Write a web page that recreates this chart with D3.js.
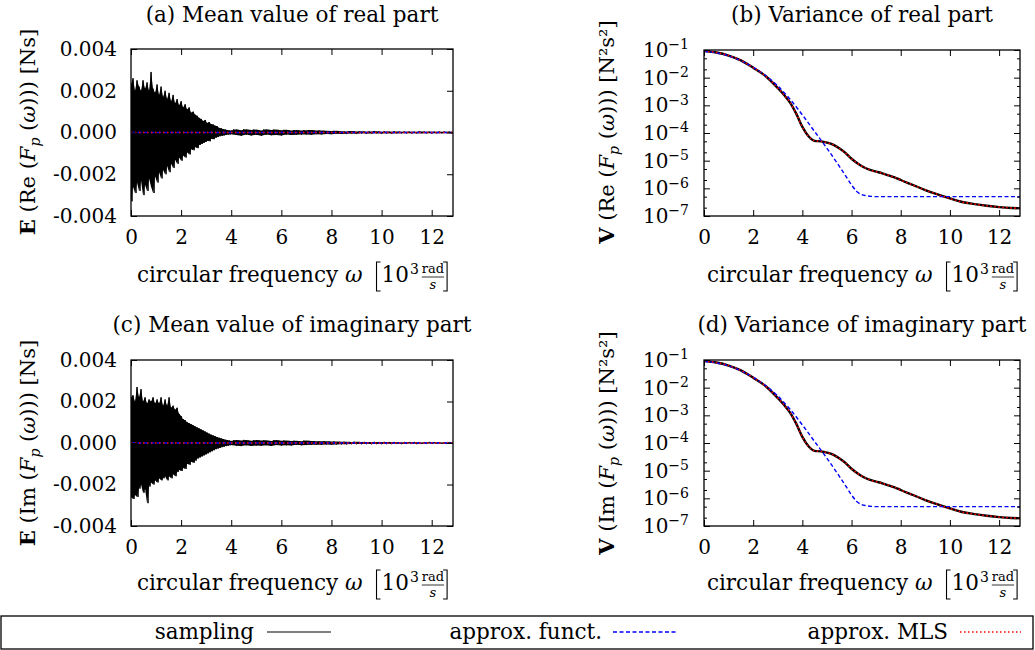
<!DOCTYPE html>
<html>
<head>
<meta charset="utf-8">
<script src="https://cdn.jsdelivr.net/npm/d3@7"></script>
<style>
body { margin: 0; background: #fff; }
svg { display: block; }
text { font-family: "DejaVu Serif", serif; fill: #000; }
</style>
</head>
<body>
<div id="chart"></div>
<script>
// Mean values, in 10^-3 Ns. Upper / lower extremes of the sampled signal,
// head part every 0.08 (10^3 rad/s) from 0 to 4, tail every 0.2 from 4.2 to 12.8
var headStep = 0.08, headEnd = 4.0, tailStep = 0.2;

var meanReHi = [2.3,2.6,2.0,2.5,2.2,2.0,2.5,2.1,2.4,2.0, 2.9,2.1,1.9,2.3,1.8,2.2,1.7,2.0,1.6,1.9,
	1.5,1.8,1.4,1.6,1.3,1.5,1.2,1.35,1.1,1.2, 0.95,1.0,0.85,0.8,0.7,0.65,0.55,0.6,0.45,0.5,
	0.4,0.38,0.32,0.3,0.22,0.2,0.16,0.14,0.12,0.1, 0.09];
var meanReLo = [-3.3,-2.6,-2.9,-2.4,-2.8,-2.3,-3.0,-2.5,-2.8,-2.2, -2.6,-2.9,-2.1,-2.4,-1.9,-2.2,-1.8,-2.0,-1.6,-1.9,
	-1.5,-1.7,-1.3,-1.5,-1.2,-1.35,-1.1,-1.2,-0.95,-1.05, -0.8,-0.85,-0.7,-0.75,-0.6,-0.55,-0.5,-0.45,-0.4,-0.42,
	-0.3,-0.32,-0.25,-0.22,-0.18,-0.16,-0.14,-0.12,-0.1,-0.09, -0.08];
var meanReTailHi = [0.15,0.11,0.16,0.12,0.14,0.10,0.15,0.12,0.14,0.11, 0.13,0.10,0.12,0.09,0.11,0.12,0.09,0.10,0.08,0.07,
	0.08,0.06,0.05,0.07,0.05,0.06,0.04,0.05,0.06,0.04, 0.05,0.04,0.05,0.03,0.04,0.04,0.03,0.05,0.03,0.04,
	0.03,0.04,0.03,0.03];
var meanReTailLo = [-0.12,-0.15,-0.10,-0.14,-0.11,-0.15,-0.10,-0.13,-0.12,-0.14, -0.10,-0.12,-0.11,-0.10,-0.09,-0.11,-0.08,-0.09,-0.07,-0.08,
	-0.06,-0.07,-0.06,-0.05,-0.06,-0.04,-0.05,-0.05,-0.04,-0.05, -0.04,-0.05,-0.04,-0.03,-0.03,-0.04,-0.04,-0.03,-0.03,-0.04,
	-0.03,-0.03,-0.02,-0.03];

var meanImHi = [2.2,2.3,2.0,2.7,2.2,2.6,2.0,2.2,1.9,2.1, 2.0,2.2,1.9,2.1,1.9,2.2,1.8,2.1,1.8,2.2,
	1.7,1.8,1.6,1.7,1.4,1.3,1.15,1.1,1.0,0.95, 0.9,0.85,0.8,0.75,0.7,0.65,0.6,0.55,0.5,0.45,
	0.4,0.36,0.32,0.28,0.25,0.22,0.19,0.16,0.14,0.12, 0.1];
var meanImLo = [-2.6,-2.7,-2.5,-2.6,-2.2,-2.0,-2.4,-2.2,-2.9,-2.1, -1.9,-2.0,-1.8,-1.9,-1.7,-1.8,-1.7,-1.6,-1.8,-1.6,
	-1.7,-1.5,-1.6,-1.4,-1.3,-1.35,-1.2,-1.25,-1.0,-1.05, -0.9,-0.95,-0.85,-0.75,-0.7,-0.65,-0.6,-0.55,-0.5,-0.45,
	-0.4,-0.35,-0.3,-0.27,-0.24,-0.2,-0.18,-0.15,-0.13,-0.11, -0.1];
var meanImTailHi = [0.14,0.12,0.15,0.11,0.14,0.12,0.13,0.10,0.14,0.11, 0.12,0.10,0.11,0.09,0.12,0.10,0.09,0.08,0.09,0.07,
	0.07,0.06,0.06,0.05,0.06,0.05,0.05,0.04,0.05,0.04, 0.05,0.04,0.04,0.03,0.04,0.03,0.04,0.03,0.03,0.04,
	0.03,0.03,0.02,0.03];
var meanImTailLo = [-0.13,-0.15,-0.11,-0.14,-0.12,-0.13,-0.11,-0.14,-0.10,-0.12, -0.11,-0.12,-0.09,-0.11,-0.10,-0.09,-0.08,-0.09,-0.07,-0.08,
	-0.07,-0.06,-0.06,-0.05,-0.05,-0.05,-0.04,-0.05,-0.04,-0.04, -0.04,-0.04,-0.03,-0.04,-0.03,-0.03,-0.04,-0.03,-0.03,-0.03,
	-0.02,-0.03,-0.03,-0.02];

// approximations of the mean (both are zero)
var meanApproxOmega = [0, 12.85];
var meanApprox = [0, 0];
var meanMls = [0, 0];

// Variances [N^2 s^2]
var varSampOmega = [0,0.5,1,1.5,2,2.5,3,3.25,3.5,3.75,4,4.25,4.5,4.75,5,5.25,5.5,5.75,6,6.25,6.5,6.75,7,7.25,7.5,7.75,8,8.5,9,9.5,10,10.5,11,11.5,12,12.5,12.85];
var varReSampling = [9.1e-2,8.1e-2,6.3e-2,4.2e-2,2.3e-2,1.15e-2,4.2e-3,2.4e-3,1.26e-3,5.0e-4,1.66e-4,7.6e-5,5.2e-5,5.0e-5,4.5e-5,
	3.8e-5,2.8e-5,1.9e-5,1.17e-5,7.9e-6,5.8e-6,4.6e-6,4.0e-6,3.5e-6,2.95e-6,2.5e-6,2.0e-6,1.32e-6,8.7e-7,6.0e-7,4.3e-7,
	3.2e-7,2.7e-7,2.35e-7,2.1e-7,1.95e-7,1.9e-7];
var varReMls = [9.1e-2,8.1e-2,6.3e-2,4.2e-2,2.3e-2,1.15e-2,4.2e-3,2.4e-3,1.26e-3,5.0e-4,1.66e-4,7.6e-5,5.2e-5,5.0e-5,4.5e-5,
	3.8e-5,2.8e-5,1.9e-5,1.17e-5,7.9e-6,5.8e-6,4.6e-6,4.0e-6,3.5e-6,2.95e-6,2.5e-6,2.0e-6,1.32e-6,8.7e-7,6.0e-7,4.3e-7,
	3.2e-7,2.7e-7,2.35e-7,2.1e-7,1.95e-7,1.9e-7];
var varApproxOmega = [0,0.5,1,1.5,2,2.5,3,3.5,4,4.5,5,5.5,5.8,6,6.2,6.4,6.6,6.8,7,8,9,10,11,12,12.85];
var varReApprox = [8.9e-2,7.9e-2,6.2e-2,4.1e-2,2.4e-2,1.2e-2,5.0e-3,1.66e-3,4.5e-4,1.12e-4,2.8e-5,6.3e-6,2.5e-6,1.32e-6,
	7.9e-7,6.0e-7,5.4e-7,5.1e-7,5.0e-7,5.0e-7,5.0e-7,5.0e-7,5.0e-7,5.0e-7,5.0e-7];

var varImSampling = [9.1e-2,8.1e-2,6.3e-2,4.2e-2,2.3e-2,1.15e-2,4.2e-3,2.4e-3,1.26e-3,5.0e-4,1.66e-4,7.6e-5,5.2e-5,5.0e-5,4.5e-5,
	3.8e-5,2.8e-5,1.9e-5,1.17e-5,7.9e-6,5.8e-6,4.6e-6,4.0e-6,3.5e-6,2.95e-6,2.5e-6,2.0e-6,1.32e-6,8.7e-7,6.0e-7,4.3e-7,
	3.2e-7,2.7e-7,2.35e-7,2.1e-7,1.95e-7,1.9e-7];
var varImMls = varImSampling.slice();
var varImApprox = [8.9e-2,7.9e-2,6.2e-2,4.1e-2,2.4e-2,1.2e-2,5.0e-3,1.66e-3,4.5e-4,1.12e-4,2.8e-5,6.3e-6,2.5e-6,1.32e-6,
	7.9e-7,6.0e-7,5.4e-7,5.1e-7,5.0e-7,5.0e-7,5.0e-7,5.0e-7,5.0e-7,5.0e-7,5.0e-7];

// ticks
var xTicks = [0, 2, 4, 6, 8, 10, 12];
var meanTicks = [-4, -2, 0, 2, 4];
var varTicks = [1e-1, 1e-2, 1e-3, 1e-4, 1e-5, 1e-6, 1e-7];
var varMinorTicks = [5e-2, 2e-2, 5e-3, 2e-3, 5e-4, 2e-4, 5e-5, 2e-5, 5e-6, 2e-6, 5e-7, 2e-7];

var legendLabels = ["sampling", "approx. funct.", "approx. MLS"];

// ---------------------------------------------------------------
var width = 1035, height = 650;
var svg = d3.select("#chart").append("svg")
	.attr("width", width)
	.attr("height", height);

var blue = "#0000ff", red = "#ff0000";

function frameAxes(p, x, y, log) {
	var g = svg.append("g");
	g.append("g").attr("transform", "translate(0," + p.bottom + ")")
		.call(d3.axisBottom(x).tickValues(xTicks).tickSize(-6).tickPadding(14));
	g.append("g").attr("transform", "translate(0," + p.top + ")")
		.call(d3.axisTop(x).tickValues(xTicks).tickSize(-6).tickFormat(""));
	var left = g.append("g").attr("transform", "translate(" + p.left + ",0)")
		.call(d3.axisLeft(y).tickValues(log ? varTicks : meanTicks).tickSize(-6).tickPadding(log ? 15 : 14)
			.tickFormat(log ? function() { return ""; } : function(d) { return (d / 1000).toFixed(3); }));
	g.append("g").attr("transform", "translate(" + p.right + ",0)")
		.call(d3.axisRight(y).tickValues(log ? varTicks : meanTicks).tickSize(-6).tickFormat(""));
	if (log) {
		g.append("g").attr("transform", "translate(" + p.left + ",0)")
			.call(d3.axisLeft(y).tickValues(varMinorTicks).tickSize(-3).tickFormat(""));
		g.append("g").attr("transform", "translate(" + p.right + ",0)")
			.call(d3.axisRight(y).tickValues(varMinorTicks).tickSize(-3).tickFormat(""));
		left.selectAll(".tick text").each(function(d) {
			var t = d3.select(this);
			t.text("10");
			t.append("tspan").attr("dy", "-0.55em").attr("font-size", 14)
				.text("\u2212" + Math.round(-Math.log10(d)));
		});
	}
	g.selectAll(".domain").remove();
	g.selectAll("g").attr("font-family", null).attr("font-size", 20);
	g.selectAll(".tick line").attr("stroke", "#000").attr("stroke-width", 1);
	g.append("rect")
		.attr("x", p.left).attr("y", p.top)
		.attr("width", p.right - p.left).attr("height", p.bottom - p.top)
		.attr("fill", "none").attr("stroke", "#000").attr("stroke-width", 1.3);
}

function title(p, txt, base) {
	svg.append("text")
		.attr("x", (p.left + p.right) / 2).attr("y", base)
		.attr("text-anchor", "middle").attr("font-size", 21.5)
		.text(txt);
}

function yLabel(cx, cy, op, part, unit) {
	var t = svg.append("text")
		.attr("transform", "translate(" + cx + "," + cy + ") rotate(-90)")
		.attr("text-anchor", "middle").attr("font-size", 21);
	t.append("tspan").attr("font-weight", "bold").text(op);
	t.append("tspan").text(" (" + part + " (");
	t.append("tspan").attr("font-style", "italic").text("F");
	t.append("tspan").attr("font-style", "italic").attr("font-size", 14).attr("dy", 5).text("p");
	t.append("tspan").attr("dy", -5).text(" (");
	t.append("tspan").attr("font-style", "italic").text("\u03c9");
	t.append("tspan").text("))) " + unit);
}

function bracket(g, x, y0, y1, dir) {
	g.append("path")
		.attr("d", "M" + (x + 4 * dir) + "," + y0 + "H" + x + "V" + y1 + "H" + (x + 4 * dir))
		.attr("fill", "none").attr("stroke", "#000").attr("stroke-width", 1.1);
}

function xLabel(cx, base) {
	var g = svg.append("g");
	var t = g.append("text").attr("y", base).attr("font-size", 21.5);
	t.append("tspan").text("circular frequency ");
	t.append("tspan").attr("font-style", "italic").text("\u03c9");
	var x0 = t.node().getComputedTextLength() + 14;
	bracket(g, x0, base - 20, base + 9, 1);
	var t10 = g.append("text").attr("x", x0 + 5).attr("y", base).attr("font-size", 21.5).text("10");
	var x1 = x0 + 5 + t10.node().getComputedTextLength() + 1;
	var t3 = g.append("text").attr("x", x1).attr("y", base - 8).attr("font-size", 14).text("3");
	var x2 = x1 + t3.node().getComputedTextLength() + 3;
	var tr = g.append("text").attr("x", x2).attr("y", base - 9).attr("font-size", 13).text("rad");
	var wf = tr.node().getComputedTextLength();
	g.append("line").attr("x1", x2).attr("x2", x2 + wf)
		.attr("y1", base - 5).attr("y2", base - 5)
		.attr("stroke", "#000").attr("stroke-width", 0.8);
	g.append("text").attr("x", x2 + wf / 2).attr("y", base + 7)
		.attr("text-anchor", "middle").attr("font-size", 13).attr("font-style", "italic").text("s");
	var x3 = x2 + wf + 3;
	bracket(g, x3, base - 20, base + 9, -1);
	g.attr("transform", "translate(" + (cx - x3 / 2) + ",0)");
}

function clip(p, id) {
	svg.append("clipPath").attr("id", id).append("rect")
		.attr("x", p.left).attr("y", p.top)
		.attr("width", p.right - p.left).attr("height", p.bottom - p.top);
	return "url(#" + id + ")";
}

function drawMean(p, id, hi, lo, tailHi, tailLo, approx, mls) {
	var x = d3.scaleLinear().domain([0, 12.85]).range([p.left, p.right]);
	var y = d3.scaleLinear().domain([-4, 4]).range([p.bottom, p.top]);
	var cp = clip(p, id);
	var line = d3.line().x(function(d) { return x(d[0]); }).y(function(d) { return y(d[1]); });

	// band of extremes, filled
	var band = hi.map(function(v, i) { return {w: i * headStep, hi: v, lo: lo[i]}; })
		.concat(tailHi.map(function(v, j) { return {w: headEnd + (j + 1) * tailStep, hi: v, lo: tailLo[j]}; }));
	var area = d3.area()
		.x(function(d) { return x(d.w); })
		.y0(function(d) { return y(d.lo); })
		.y1(function(d) { return y(d.hi); });
	svg.append("path").datum(band).attr("clip-path", cp)
		.attr("d", area).attr("fill", "#000");

	// zigzag between upper and lower extremes
	var pts = [];
	hi.forEach(function(v, i) {
		pts.push([i * headStep, v]);
		pts.push([i * headStep + headStep / 2, lo[i]]);
	});
	tailHi.forEach(function(v, j) {
		var w = headEnd + (j + 1) * tailStep;
		pts.push([w - tailStep / 2, v]);
		pts.push([w, tailLo[j]]);
	});
	svg.append("path").datum(pts).attr("clip-path", cp)
		.attr("d", line).attr("fill", "none").attr("stroke", "#000").attr("stroke-width", 1);

	svg.append("path").datum(meanApproxOmega.map(function(w, i) { return [w, approx[i]]; }))
		.attr("clip-path", cp).attr("d", line).attr("fill", "none")
		.attr("stroke", blue).attr("stroke-width", 1.4).attr("stroke-dasharray", "4,2.5");
	svg.append("path").datum(meanApproxOmega.map(function(w, i) { return [w, mls[i]]; }))
		.attr("clip-path", cp).attr("d", line).attr("fill", "none")
		.attr("stroke", red).attr("stroke-width", 1.6).attr("stroke-dasharray", "1.5,2.5");

	frameAxes(p, x, y, false);
}

function drawVar(p, id, samp, approx, mls) {
	var x = d3.scaleLinear().domain([0, 12.85]).range([p.left, p.right]);
	var y = d3.scaleLog().domain([1e-7, 1e-1]).range([p.bottom, p.top]);
	var cp = clip(p, id);
	var line = d3.line().curve(d3.curveMonotoneX)
		.x(function(d) { return x(d[0]); }).y(function(d) { return y(d[1]); });

	svg.append("path").datum(varSampOmega.map(function(w, i) { return [w, samp[i]]; }))
		.attr("clip-path", cp).attr("d", line).attr("fill", "none")
		.attr("stroke", "#000").attr("stroke-width", 2.4);
	svg.append("path").datum(varApproxOmega.map(function(w, i) { return [w, approx[i]]; }))
		.attr("clip-path", cp).attr("d", line).attr("fill", "none")
		.attr("stroke", blue).attr("stroke-width", 1.4).attr("stroke-dasharray", "4,2.5");
	svg.append("path").datum(varSampOmega.map(function(w, i) { return [w, mls[i]]; }))
		.attr("clip-path", cp).attr("d", line).attr("fill", "none")
		.attr("stroke", red).attr("stroke-width", 1.6).attr("stroke-dasharray", "1.5,2.5");

	frameAxes(p, x, y, true);
}

var pa = {left: 131, right: 453, top: 49, bottom: 216},
	pb = {left: 704, right: 1020, top: 50, bottom: 216},
	pc = {left: 131, right: 453, top: 360, bottom: 526},
	pd = {left: 704, right: 1020, top: 360, bottom: 526};

drawMean(pa, "clipA", meanReHi, meanReLo, meanReTailHi, meanReTailLo, meanApprox, meanMls);
drawVar(pb, "clipB", varReSampling, varReApprox, varReMls);
drawMean(pc, "clipC", meanImHi, meanImLo, meanImTailHi, meanImTailLo, meanApprox, meanMls);
drawVar(pd, "clipD", varImSampling, varImApprox, varImMls);

title(pa, "(a) Mean value of real part", 22);
title(pb, "(b) Variance of real part", 22);
title(pc, "(c) Mean value of imaginary part", 332);
title(pd, "(d) Variance of imaginary part", 332);

yLabel(35, 132, "E", "Re", "[Ns]");
yLabel(614, 132, "V", "Re", "[N\u00b2s\u00b2]");
yLabel(35, 443, "E", "Im", "[Ns]");
yLabel(614, 443, "V", "Im", "[N\u00b2s\u00b2]");

xLabel((pa.left + pa.right) / 2, 282);
xLabel((pb.left + pb.right) / 2, 282);
xLabel((pc.left + pc.right) / 2, 590);
xLabel((pd.left + pd.right) / 2, 590);

// legend
var leg = svg.append("g");
leg.append("rect").attr("x", 1).attr("y", 616).attr("width", 1032).attr("height", 33)
	.attr("fill", "none").attr("stroke", "#000").attr("stroke-width", 1.3);
var legItems = [
	{end: 254, x1: 267, x2: 331, stroke: "#000", dash: null, w: 1.2},
	{end: 602, x1: 613, x2: 676, stroke: blue, dash: "4,2.5", w: 1.3},
	{end: 948, x1: 960, x2: 1021, stroke: red, dash: "1.5,2.5", w: 1.5}
];
legItems.forEach(function(it, i) {
	leg.append("text").attr("x", it.end).attr("y", 639).attr("text-anchor", "end")
		.attr("font-size", 21.5).text(legendLabels[i]);
	leg.append("line").attr("x1", it.x1).attr("x2", it.x2).attr("y1", 632).attr("y2", 632)
		.attr("stroke", it.stroke).attr("stroke-width", it.w).attr("stroke-dasharray", it.dash);
});
</script>
</body>
</html>
